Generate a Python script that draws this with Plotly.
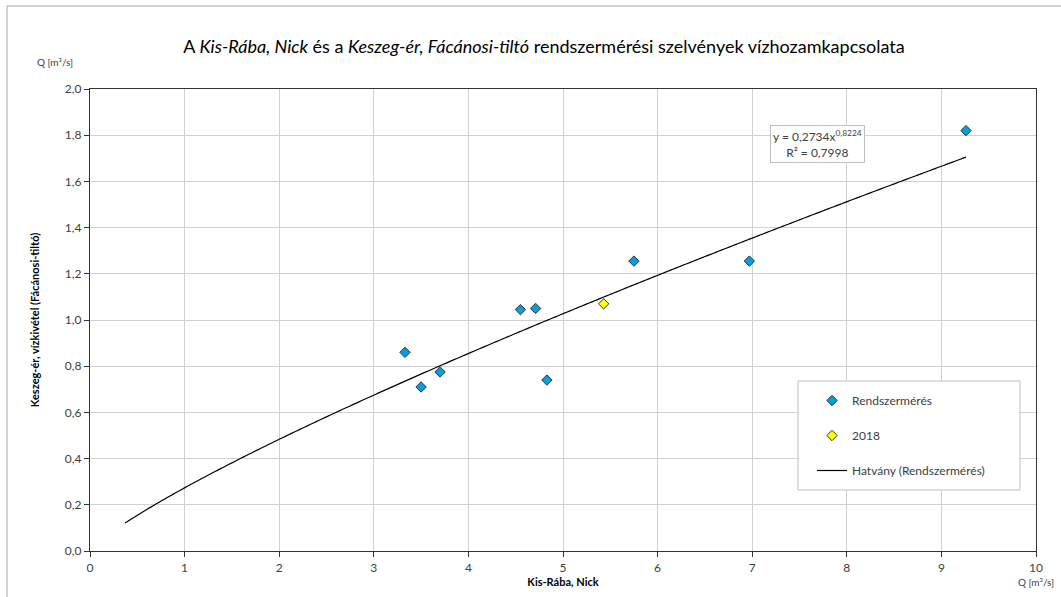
import numpy as np
import plotly.graph_objects as go

# Data
rendszer_x = [3.33, 3.50, 3.70, 4.55, 4.71, 4.83, 5.75, 6.97, 9.26]
rendszer_y = [0.86, 0.71, 0.775, 1.045, 1.05, 0.74, 1.255, 1.255, 1.82]
y2018_x = [5.43]
y2018_y = [1.07]
trend_a = 0.2734
trend_b = 0.8224
trend_r2 = 0.7998
trend_range = [0.37, 9.26]

x_ticks = list(range(0, 11))
y_ticks = [0.0, 0.2, 0.4, 0.6, 0.8, 1.0, 1.2, 1.4, 1.6, 1.8, 2.0]

FONT = "Lato, 'Open Sans', sans-serif"
tx = np.linspace(trend_range[0], trend_range[1], 300)
ty = trend_a * tx ** trend_b

fig = go.Figure()
fig.add_trace(go.Scatter(
    x=rendszer_x, y=rendszer_y, mode="markers", name="Rendszermérés",
    legendgroup="a",
    marker=dict(symbol="diamond", size=8, color="#00a0e0",
                line=dict(color="#333333", width=1))))
fig.add_trace(go.Scatter(
    x=y2018_x, y=y2018_y, mode="markers", name="2018",
    legendgroup="b",
    marker=dict(symbol="diamond", size=8, color="#ffff00",
                line=dict(color="#333333", width=1))))
fig.add_trace(go.Scatter(
    x=tx, y=ty, mode="lines", name="Hatvány (Rendszermérés)",
    legendgroup="c",
    line=dict(color="#000000", width=1.2, simplify=False)))

fig.update_layout(
    width=1061, height=597,
    margin=dict(l=90, r=25, t=89, b=46),
    paper_bgcolor="white", plot_bgcolor="white",
    separators=", ",
    font=dict(family=FONT, size=12, color="#404040"),
    title=dict(
        text="A <i>Kis-Rába, Nick</i> és a <i>Keszeg-ér, Fácánosi-tiltó</i> rendszermérési szelvények vízhozamkapcsolata",
        x=(544 - 0) / 1061, xref="container", xanchor="center", y=1 - 47 / 597, yanchor="middle",
        font=dict(family=FONT, size=18, color="#000000")),
    showlegend=True,
    legend=dict(
        x=(812 - 90) / 946, y=(551 - 386) / 462, xanchor="left", yanchor="top",
        bgcolor="rgba(0,0,0,0)", borderwidth=0,
        traceorder="grouped", tracegroupgap=16,
        font=dict(family=FONT, size=12, color="#404040")),
    xaxis=dict(
        range=[0, 10], tickvals=x_ticks, ticktext=[str(v) for v in x_ticks],
        showgrid=True, gridcolor="#d0d0d0", gridwidth=1,
        showline=True, linecolor="#333333", linewidth=1.3, mirror=True,
        ticks="outside", ticklen=5, tickcolor="#333333",
        zeroline=False,
        tickfont=dict(family=FONT, size=12, color="#404040"),
        title=dict(text="<b>Kis-Rába, Nick</b>", standoff=2,
                   font=dict(family=FONT, size=11, color="#000000"))),
    yaxis=dict(
        range=[0, 2.0], tickvals=y_ticks, tickformat=".1f",
        showgrid=True, gridcolor="#d0d0d0", gridwidth=1,
        showline=True, linecolor="#333333", linewidth=1.3, mirror=True,
        ticks="outside", ticklen=5, tickcolor="#333333",
        zeroline=False,
        tickfont=dict(family=FONT, size=12, color="#404040"),
        title=dict(text="<b>Keszeg-ér, vízkivétel (Fácánosi-tiltó)</b>", standoff=22,
                   font=dict(family=FONT, size=11, color="#000000"))),
)

shapes = [
    # outer chart border
    dict(type="rect", xref="paper", yref="paper",
         x0=(7 - 90) / 946, x1=1.2, y0=-0.3, y1=(551 - 6) / 462,
         line=dict(color="#a6a6a6", width=1), fillcolor="rgba(0,0,0,0)", layer="below"),
    # legend box
    dict(type="rect", xref="paper", yref="paper",
         x0=(798 - 90) / 946, x1=(1020 - 90) / 946,
         y0=(551 - 490) / 462, y1=(551 - 381) / 462,
         line=dict(color="#bfbfbf", width=1), fillcolor="white", layer="above"),
]
fig.update_layout(shapes=shapes)

annotations = [
    dict(text="y = 0,2734x<sup>0,8224</sup><br>R² = 0,7998",
         x=(817.5 - 90) / 94.6, y=(551 - 143.5) / 231, xref="x", yref="y",
         showarrow=False, align="center",
         bordercolor="#bfbfbf", borderwidth=1, borderpad=2, bgcolor="white",
         font=dict(family=FONT, size=12, color="#404040")),
    dict(text="Q [m³/s]", xref="paper", yref="paper",
         x=(55 - 90) / 946, y=(551 - 62) / 462, showarrow=False,
         xanchor="center", yanchor="middle",
         font=dict(family=FONT, size=10, color="#404040")),
    dict(text="Q [m³/s]", xref="paper", yref="paper",
         x=(1036 - 90) / 946, y=(551 - 582) / 462, showarrow=False,
         xanchor="center", yanchor="middle",
         font=dict(family=FONT, size=10, color="#404040")),
]
fig.update_layout(annotations=annotations)

fig.write_html("out.html")
